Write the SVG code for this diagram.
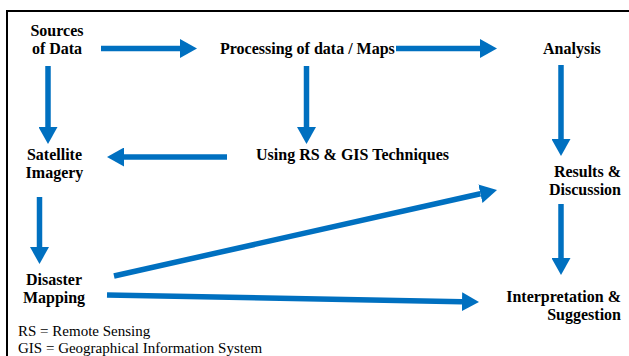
<svg xmlns="http://www.w3.org/2000/svg" width="629" height="356" viewBox="0 0 629 356">
<style>
.lbl{font-family:'Liberation Serif','Times New Roman',Times,serif;font-weight:bold;font-size:16px;fill:#000}
.leg{font-family:'Liberation Serif','Times New Roman',Times,serif;font-size:15px;fill:#000}
.arr{stroke:#0070C0;stroke-width:5.5;fill:none;marker-end:url(#ah)}
</style>
<defs>
<marker id="ah" markerUnits="userSpaceOnUse" viewBox="0 0 17 19" markerWidth="17" markerHeight="19" refX="0" refY="9.5" orient="auto">
<path d="M0,0 L17,9.5 L0,19 Z" fill="#0070C0"/>
</marker>
</defs>
<rect width="629" height="356" fill="#fff"/>
<path d="M7,360 V11 H632" fill="none" stroke="#000" stroke-width="2"/>
<g id="connectors">
<line class="arr" x1="101" y1="48.5" x2="180" y2="48.5"/>
<line class="arr" x1="396" y1="48.5" x2="480" y2="48.5"/>
<line class="arr" x1="48" y1="66" x2="48" y2="127"/>
<line class="arr" x1="306.5" y1="66" x2="306.5" y2="127"/>
<line class="arr" x1="561" y1="65" x2="561" y2="139"/>
<line class="arr" x1="227" y1="157" x2="124" y2="157"/>
<line class="arr" x1="39.5" y1="197" x2="39.5" y2="247"/>
<line class="arr" x1="561" y1="204" x2="561" y2="258"/>
<line class="arr" x1="114" y1="276" x2="480.4" y2="193.7"/>
<line class="arr" x1="107" y1="295" x2="462" y2="301.7"/>
</g>
<g id="sources"><text class="lbl" x="57" y="36" text-anchor="middle">Sources</text><text class="lbl" x="57" y="54" text-anchor="middle">of Data</text></g>
<g id="processing"><text class="lbl" x="220" y="54">Processing of data / Maps</text></g>
<g id="analysis"><text class="lbl" x="543" y="54">Analysis</text></g>
<g id="satellite"><text class="lbl" x="54.5" y="160" text-anchor="middle">Satellite</text><text class="lbl" x="54.5" y="178" text-anchor="middle">Imagery</text></g>
<g id="techniques"><text class="lbl" x="256" y="160">Using RS &amp; GIS Techniques</text></g>
<g id="results"><text class="lbl" x="621" y="177" text-anchor="end">Results &amp;</text><text class="lbl" x="621" y="195" text-anchor="end">Discussion</text></g>
<g id="disaster"><text class="lbl" x="54" y="285" text-anchor="middle">Disaster</text><text class="lbl" x="54" y="303" text-anchor="middle">Mapping</text></g>
<g id="interpretation"><text class="lbl" x="621" y="302" text-anchor="end">Interpretation &amp;</text><text class="lbl" x="621" y="320" text-anchor="end">Suggestion</text></g>
<g id="legend"><text class="leg" x="18" y="336">RS = Remote Sensing</text><text class="leg" x="18" y="353">GIS = Geographical Information System</text></g>
</svg>
